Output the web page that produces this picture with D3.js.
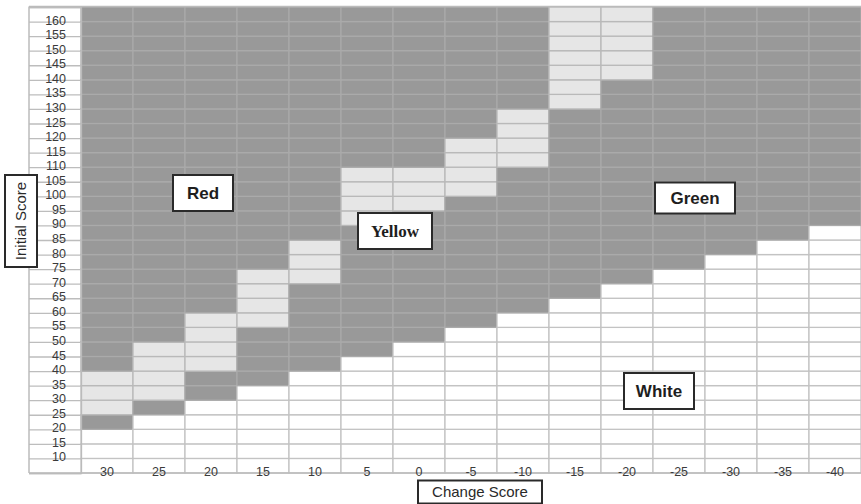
<!DOCTYPE html>
<html>
<head>
<meta charset="utf-8">
<script src="https://cdn.jsdelivr.net/npm/d3@7"></script>
<style>
  html, body { margin: 0; padding: 0; background: #fff; }
  svg { display: block; }
  text { font-family: "Liberation Sans", Arial, Helvetica, sans-serif; }
</style>
</head>
<body>
<svg id="chart" width="861" height="504"></svg>
<script>
// ---- data ----
const changeScores = [30, 25, 20, 15, 10, 5, 0, -5, -10, -15, -20, -25, -30, -35, -40];
// white cells lie below this initial score
const whiteTop =     [20, 25, 30, 35, 40, 45, 50, 55, 60, 65, 70, 75, 80, 85, 90];
// yellow band (lower / upper initial score); null = none
const yellowLow =    [25, 30, 40, 55, 70, 90, 95, 100, 110, 130, 140, null, null, null, null];
const yellowHigh =   [40, 50, 60, 75, 85, 110, 110, 120, 130, 165, 165, null, null, null, null];
const rowStarts = d3.range(5, 165, 5);          // cells: [v, v+5]
const yTickLabels = d3.range(10, 165, 5);       // 10 ... 160
const zoneLabels = [
  {text: "Red",    cx: 203, cy: 193, w: 60, h: 36, serif: false},
  {text: "Yellow", cx: 395, cy: 231, w: 74, h: 36, serif: true},
  {text: "Green",  cx: 695, cy: 198, w: 80, h: 31, serif: false},
  {text: "White",  cx: 659, cy: 391, w: 70, h: 36, serif: false}
];

// ---- layout ----
const labelLeft = 29, gridLeft = 81, gridRight = 861, gridTop = 7, gridBottom = 473;
const svg = d3.select("#chart");

const x = d3.scaleBand().domain(changeScores).range([gridLeft, gridRight]).padding(0);
const y = d3.scaleLinear().domain([5, 165]).range([gridBottom, gridTop]);

const colors = {white: "#ffffff", yellow: "#e6e6e6", dark: "#999999"};
const strokes = {white: "#c3c3c3", yellow: "#b9b9b9", dark: "#aaaaaa"};

function cat(i, v) {
  if (v < whiteTop[i]) return "white";
  if (yellowLow[i] !== null && v >= yellowLow[i] && v < yellowHigh[i]) return "yellow";
  return "dark";
}

const cells = [];
changeScores.forEach((c, i) => {
  rowStarts.forEach(v => cells.push({c, i, v, k: cat(i, v)}));
});

// label column background
svg.append("rect")
  .attr("x", labelLeft).attr("y", gridTop)
  .attr("width", gridLeft - labelLeft).attr("height", gridBottom - gridTop)
  .attr("fill", "#fff");

// cells
svg.append("g").selectAll("rect").data(cells).join("rect")
  .attr("x", d => x(d.c))
  .attr("y", d => y(d.v + 5))
  .attr("width", x.bandwidth())
  .attr("height", d => y(d.v) - y(d.v + 5))
  .attr("fill", d => colors[d.k])
  .attr("stroke", d => strokes[d.k])
  .attr("stroke-width", 1.3);

// y axis: row lines across label column
const yAxis = d3.axisLeft(y)
  .tickValues(d3.range(5, 170, 5))
  .tickSize(gridLeft - labelLeft)
  .tickFormat(d => (d >= 10 && d <= 160) ? d : "");
const gy = svg.append("g").attr("transform", `translate(${gridLeft},0)`).call(yAxis);
gy.select(".domain").attr("stroke", "#bbbbbb").attr("stroke-width", 1.3);
gy.selectAll(".tick line").attr("stroke", "#bdbdbd").attr("stroke-width", 1.3);
gy.selectAll(".tick text")
  .attr("x", -(gridLeft - 66))
  .attr("dy", "0.2em")
  .attr("text-anchor", "end")
  .attr("fill", "#3a3a3a")
  .style("font-size", "12.5px")
  .style("font-family", "'Liberation Sans', Arial, sans-serif");

// outer border lines
const border = svg.append("g").attr("fill", "none").attr("stroke", "#bbbbbb").attr("stroke-width", 1.5);
border.append("line").attr("x1", labelLeft).attr("x2", gridRight).attr("y1", gridTop - 0.5).attr("y2", gridTop - 0.5);
border.append("line").attr("x1", labelLeft).attr("x2", labelLeft).attr("y1", gridTop - 0.5).attr("y2", gridBottom);
border.append("line").attr("x1", labelLeft).attr("x2", gridRight).attr("y1", gridBottom).attr("y2", gridBottom);

// x axis tick labels sitting on the bottom line
const xAxis = d3.axisBottom(x).tickSize(0).tickPadding(0);
const gx = svg.append("g").attr("transform", `translate(0,${gridBottom})`).call(xAxis);
gx.select(".domain").remove();
gx.selectAll(".tick text")
  .attr("y", 0)
  .attr("dy", "0.2em")
  .attr("fill", "#3a3a3a")
  .style("font-size", "12.5px")
  .style("font-family", "'Liberation Sans', Arial, sans-serif");

// zone label boxes
const zg = svg.append("g").selectAll("g").data(zoneLabels).join("g")
  .attr("transform", d => `translate(${d.cx},${d.cy})`);
zg.append("rect")
  .attr("x", d => -d.w / 2).attr("y", d => -d.h / 2)
  .attr("width", d => d.w).attr("height", d => d.h)
  .attr("fill", "#fff").attr("stroke", "#2a2a2a").attr("stroke-width", 2);
zg.append("text")
  .attr("text-anchor", "middle").attr("dy", "0.36em")
  .attr("fill", "#1e1e1e")
  .style("font-weight", "bold")
  .style("font-size", "17px")
  .style("font-family", d => d.serif ? "'Liberation Serif', 'Times New Roman', serif" : "'Liberation Sans', Arial, sans-serif")
  .text(d => d.text);

// axis titles
const yt = svg.append("g").attr("transform", "translate(21,221)");
yt.append("rect").attr("x", -16).attr("y", -46).attr("width", 32).attr("height", 92)
  .attr("fill", "#fff").attr("stroke", "#2a2a2a").attr("stroke-width", 2);
yt.append("text").attr("transform", "rotate(-90)")
  .attr("text-anchor", "middle").attr("dy", "0.36em")
  .attr("fill", "#2a2a2a").style("font-size", "15px")
  .text("Initial Score");

const xt = svg.append("g").attr("transform", "translate(480,492)");
xt.append("rect").attr("x", -62).attr("y", -11.5).attr("width", 124).attr("height", 23)
  .attr("fill", "#fff").attr("stroke", "#2a2a2a").attr("stroke-width", 2);
xt.append("text")
  .attr("text-anchor", "middle").attr("dy", "0.36em")
  .attr("fill", "#2a2a2a").style("font-size", "15px")
  .text("Change Score");
</script>
</body>
</html>
